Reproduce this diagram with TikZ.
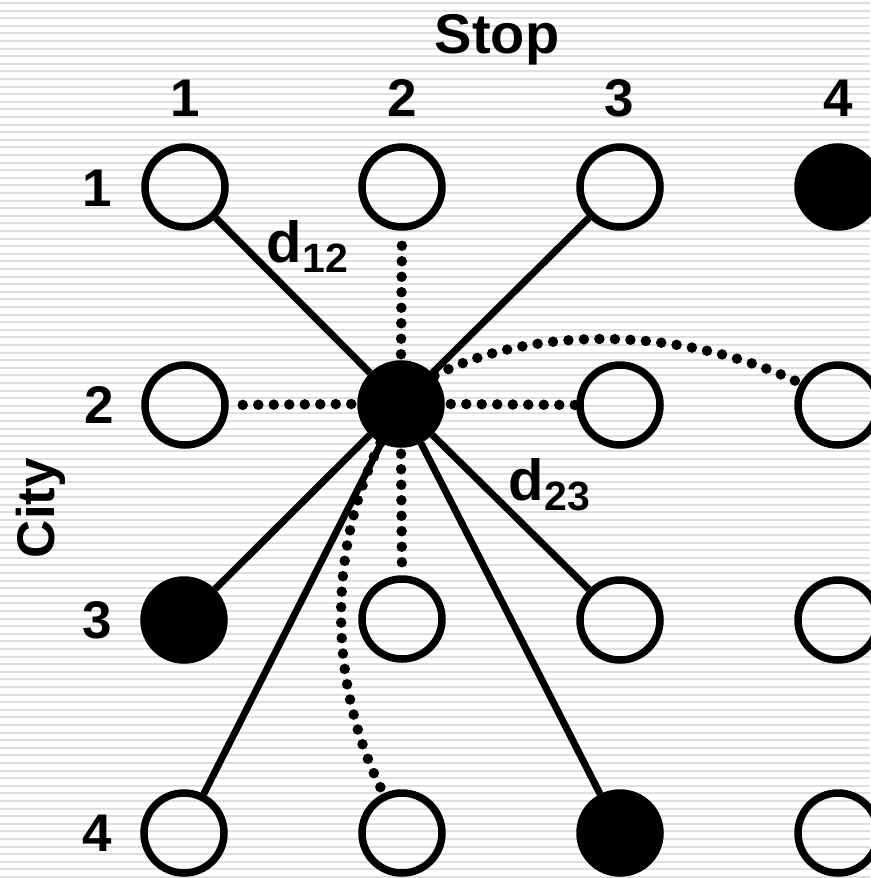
\documentclass[tikz,border=0pt]{standalone}
\usepackage{fontspec}
\setmainfont{Liberation Sans}
\begin{document}
\begin{tikzpicture}[x=1pt,y=-1pt,
  stripe/.style={draw=black!13,line width=2pt},
  cnode/.style={circle,draw=black,line width=7.5pt,minimum size=80pt,inner sep=0pt},
  fnode/.style={cnode,fill=black},
  solidlink/.style={line width=7pt},
  dotlink/.style={line width=10.5pt,line cap=round,dash pattern=on 0pt off 15.5pt},
  lbl/.style={inner sep=0pt,font=\fontsize{53}{53}\selectfont\bfseries},
  dlbl/.style={inner sep=0pt,anchor=base west}]
\useasboundingbox (0,0) rectangle (870,878);
\fill[white] (0,0) rectangle (870,878);
\foreach \i in {0,...,115} \draw[stripe] (0,\i*7.6+3) -- (870,\i*7.6+3);
% labels
\node[lbl,font=\fontsize{56}{56}\selectfont\bfseries,anchor=base] (stop) at (497,53) {Stop};
\node[lbl,anchor=base] (c1) at (185,116) {1};
\node[lbl,anchor=base] (c2) at (402,116) {2};
\node[lbl,anchor=base] (c3) at (619,116) {3};
\node[lbl,anchor=base] (c4) at (838,116) {4};
\node[lbl] (r1) at (97,188) {1};
\node[lbl] (r2) at (99,405) {2};
\node[lbl] (r3) at (97,620) {3};
\node[lbl] (r4) at (97,833) {4};
\node[lbl,rotate=90] (city) at (41,508) {City};
% nodes
\node[cnode] (n11) at (185,187) {};
\node[cnode] (n21) at (402,187) {};
\node[cnode] (n31) at (620,187) {};
\node[fnode] (n41) at (838,187) {};
\node[cnode] (n12) at (185,405) {};
\node[fnode] (n22) at (401,404) {};
\node[cnode] (n32) at (620,405) {};
\node[cnode] (n42) at (838,405) {};
\node[fnode] (n13) at (184,620) {};
\node[cnode] (n23) at (402,619) {};
\node[cnode] (n33) at (620,620) {};
\node[cnode] (n43) at (838,620) {};
\node[cnode] (n14) at (184,833) {};
\node[cnode] (n24) at (402,833) {};
\node[fnode] (n34) at (620,833) {};
\node[cnode] (n44) at (838,833) {};
% links
\draw[solidlink] (n22) -- (n11);
\draw[solidlink] (n22) -- (n31);
\draw[solidlink] (n22) -- (n13);
\draw[solidlink] (n22) -- (n14);
\draw[solidlink] (n22) -- (n34);
\draw[solidlink] (n22) -- (n33);
\draw[dotlink] (n22.north) ++(0,-6) -- (n21.south);
\draw[dotlink] (n22.west) ++(-6,0) -- (n12.east);
\draw[dotlink] (n22.east) ++(6,0) -- (n32.west);
\draw[dotlink] (n22.south) ++(0,6) -- (n23.north);
\draw[dotlink] (n22.40) .. controls (530,326) and (680,325) .. (n42.150);
\draw[dotlink] (n22.-118) .. controls (325,555) and (330,690) .. (n24.115);
% distance labels
\node[dlbl] (d12) at (266,262) {{\fontsize{58}{58}\selectfont\bfseries d}\kern1pt\raisebox{-10pt}{\fontsize{41}{41}\selectfont\bfseries 12}};
\node[dlbl] (d23) at (508,500) {{\fontsize{58}{58}\selectfont\bfseries d}\kern1pt\raisebox{-10pt}{\fontsize{41}{41}\selectfont\bfseries 23}};
\end{tikzpicture}
\end{document}
